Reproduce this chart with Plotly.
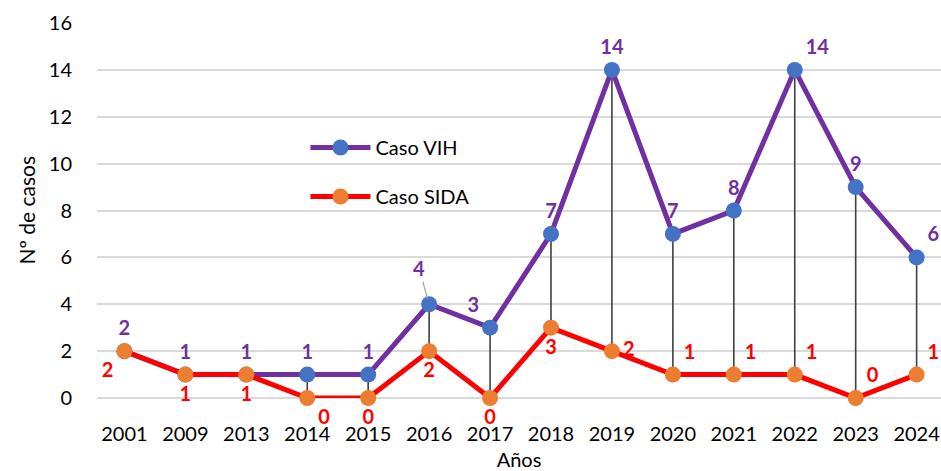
import plotly.graph_objects as go

years = ["2001", "2009", "2013", "2014", "2015", "2016", "2017", "2018",
         "2019", "2020", "2021", "2022", "2023", "2024"]
vih = [2, 1, 1, 1, 1, 4, 3, 7, 14, 7, 8, 14, 9, 6]
sida = [2, 1, 1, 0, 0, 2, 0, 3, 2, 1, 1, 1, 0, 1]
y_ticks = [0, 2, 4, 6, 8, 10, 12, 14, 16]

vih_pos = ["top center", "top center", "top center", "top center", "top center",
           "top left", "top left", "top center", "top center", "top center",
           "top center", "top right", "top center", "top right"]
sida_pos = ["bottom left", "bottom center", "bottom center", "bottom right", "bottom center",
            "bottom center", "bottom center", "bottom center", "middle right", "top right",
            "top right", "top right", "top right", "top right"]

FONT = "Lato, 'Open Sans', sans-serif"

fig = go.Figure()

# high-low lines
hx, hy = [], []
for yr, a, b in zip(years, vih, sida):
    hx += [yr, yr, None]
    hy += [a, b, None]
fig.add_trace(go.Scatter(x=hx, y=hy, mode="lines", line=dict(color="#404040", width=1.6),
                         showlegend=False, hoverinfo="skip", cliponaxis=False))

vih_text = [str(v) if i != 5 else "" for i, v in enumerate(vih)]
fig.add_trace(go.Scatter(
    x=years, y=vih, mode="lines+markers+text", name="Caso VIH",
    line=dict(color="#7030A0", width=5),
    marker=dict(color="#4472C4", size=16),
    text=vih_text, textposition=vih_pos,
    textfont=dict(color="#7030A0", size=20, family=FONT, weight="bold"),
    legendgroup="a", cliponaxis=False))
fig.add_trace(go.Scatter(
    x=years, y=sida, mode="lines+markers+text", name="Caso SIDA",
    line=dict(color="#FF0000", width=5),
    marker=dict(color="#ED7D31", size=16),
    text=[str(v) for v in sida], textposition=sida_pos,
    textfont=dict(color="#FF0000", size=20, family=FONT, weight="bold"),
    legendgroup="b", cliponaxis=False))

# 2016 VIH label with leader line
fig.add_annotation(x=5, y=vih[5], xref="x", yref="y",
                   text="<b>" + str(vih[5]) + "</b>",
                   showarrow=True, arrowhead=0, arrowwidth=1.2, arrowcolor="#A6A6A6",
                   ax=-10, ay=-36, standoff=6,
                   font=dict(color="#7030A0", size=20, family=FONT))

# y-axis title
fig.add_annotation(x=-0.084, y=0.5, xref="paper", yref="paper", text="Nº de casos",
                   xanchor="center", yanchor="middle",
                   textangle=-90, showarrow=False, font=dict(size=21, family=FONT, color="black"))

fig.update_layout(
    width=941, height=471,
    margin=dict(l=97, r=0, t=23, b=73, autoexpand=False),
    plot_bgcolor="white", paper_bgcolor="white",
    font=dict(family=FONT, size=20, color="black"),
    xaxis=dict(type="category", range=[-0.45, 13.4], showgrid=False, showline=False,
               ticks="", tickfont=dict(size=20), automargin=False, ticklabelstandoff=22,
               title=dict(text="Años", font=dict(size=20))),
    yaxis=dict(range=[0, 16], tickvals=y_ticks, showgrid=True, gridcolor="#D9D9D9", gridwidth=1.5,
               zeroline=True, zerolinecolor="#D9D9D9", zerolinewidth=1.5, automargin=False,
               showline=False, ticks="", tickfont=dict(size=20), ticklabelstandoff=24),
    legend=dict(x=0.247, y=0.72, xanchor="left", yanchor="top", bgcolor="rgba(0,0,0,0)",
                font=dict(size=20), tracegroupgap=20, itemwidth=60),
    showlegend=True,
)

fig.write_html("out.html", config={"displayModeBar": False},
               post_script="document.body.style.margin='0';")
